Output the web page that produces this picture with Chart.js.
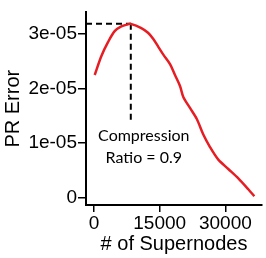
<!DOCTYPE html>
<html>
<head>
<meta charset="utf-8">
<script src="https://cdn.jsdelivr.net/npm/chart.js@4/dist/chart.umd.min.js"></script>
<style>
html,body{margin:0;padding:0;background:#fff;}
#c{display:block;}
</style>
</head>
<body>
<canvas id="c" width="266" height="258"></canvas>
<script>
// Data
const supernodes = [160, 1667, 3196, 4726, 6233, 7763, 8400, 10799, 12329, 13539, 14680, 15822, 17352, 18493, 19635, 20388, 21918, 23447, 24954, 26484, 28379, 30662, 32945, 35228, 36598];
const prError = [2.243e-5, 2.587e-5, 2.845e-5, 3.046e-5, 3.133e-5, 3.172e-5, 3.18e-5, 3.103e-5, 3.017e-5, 2.904e-5, 2.759e-5, 2.616e-5, 2.444e-5, 2.243e-5, 2.043e-5, 1.842e-5, 1.640e-5, 1.441e-5, 1.153e-5, 0.924e-5, 0.694e-5, 0.522e-5, 0.350e-5, 0.150e-5, 0.022e-5];
const xTickValues = [0, 15000, 30000];
const yTickValues = [0, 1e-5, 2e-5, 3e-5];
const yTickLabels = ["0", "1e-05", "2e-05", "3e-05"];
const peakX = 8400;
const peakY = 3.18e-5;
const dashBottomY = 1.38e-5;
const X_MIN = -1826, X_MAX = 38356;
const Y_MIN = -0.138e-5, Y_MAX = 3.39e-5;
const annotationLines = ["Compression", "Ratio = 0.9"];

const curve = supernodes.map((x, i) => ({x: x, y: prError[i]}));
const dashH = [{x: X_MIN, y: peakY}, {x: peakX, y: peakY}];
const dashV = [{x: peakX, y: peakY}, {x: peakX, y: dashBottomY}];

const annot = {
  id: 'annot',
  afterDatasetsDraw(chart) {
    const ctx = chart.ctx;
    const xs = chart.scales.x, ys = chart.scales.y;
    const cx = xs.getPixelForValue(peakX) + 13;
    const y0 = ys.getPixelForValue(dashBottomY) + 14;
    ctx.save();
    ctx.fillStyle = '#000';
    ctx.font = '16px Lato, "Open Sans", sans-serif';
    ctx.textAlign = 'center';
    ctx.textBaseline = 'middle';
    annotationLines.forEach((t, i) => ctx.fillText(t, cx, y0 + i * 22));
    ctx.restore();
  }
};

const axisFont = {family: '"Liberation Sans", Arial, sans-serif', size: 19};
const titleFont = {family: '"Liberation Sans", Arial, sans-serif', size: 20};

new Chart(document.getElementById('c'), {
  type: 'line',
  data: {
    datasets: [
      {data: curve, borderColor: 'rgb(230,30,36)', borderWidth: 2.5, pointRadius: 0, tension: 0.3, fill: false},
      {data: dashH, borderColor: '#000', borderWidth: 2, borderDash: [6, 4], pointRadius: 0, clip: false},
      {data: dashV, borderColor: '#000', borderWidth: 2, borderDash: [6, 4], pointRadius: 0, clip: false}
    ]
  },
  options: {
    responsive: false,
    devicePixelRatio: 1,
    animation: false,
    layout: {padding: {top: 0, right: 4, left: 0, bottom: 0}},
    plugins: {legend: {display: false}, tooltip: {enabled: false}},
    scales: {
      x: {
        type: 'linear', min: X_MIN, max: X_MAX,
        afterBuildTicks: s => { s.ticks = xTickValues.map(v => ({value: v})); },
        afterFit: s => { s.height = 53; },
        ticks: {color: '#000', font: axisFont, padding: 0, maxRotation: 0, callback: v => String(v)},
        grid: {drawOnChartArea: false, drawTicks: true, tickLength: 7, color: '#000', lineWidth: 1.5},
        border: {color: '#000', width: 2},
        title: {display: true, text: '# of Supernodes', color: '#000', font: titleFont, padding: {top: 0, bottom: 2}}
      },
      y: {
        type: 'linear', min: Y_MIN, max: Y_MAX,
        afterBuildTicks: s => { s.ticks = yTickValues.map(v => ({value: v})); },
        afterFit: s => { s.width = 86; },
        ticks: {color: '#000', font: axisFont, padding: 1, callback: (v) => { const i = yTickValues.indexOf(v); return i >= 0 ? yTickLabels[i] : ''; }},
        grid: {drawOnChartArea: false, drawTicks: true, tickLength: 8, color: '#000', lineWidth: 1.5},
        border: {color: '#000', width: 2},
        title: {display: true, text: 'PR Error', color: '#000', font: titleFont, padding: {top: 1, bottom: 0}}
      }
    }
  },
  plugins: [annot]
});
</script>
</body>
</html>
